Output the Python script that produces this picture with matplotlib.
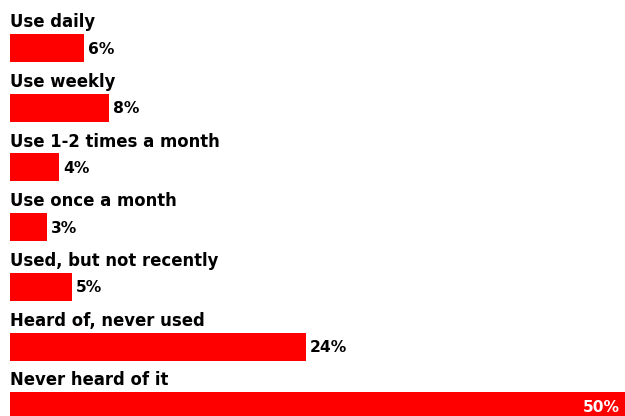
import matplotlib.pyplot as plt
from matplotlib.transforms import offset_copy

categories = [
    "Use daily",
    "Use weekly",
    "Use 1-2 times a month",
    "Use once a month",
    "Used, but not recently",
    "Heard of, never used",
    "Never heard of it",
]
values = [6, 8, 4, 3, 5, 24, 50]
value_labels = ["6%", "8%", "4%", "3%", "5%", "24%", "50%"]

fig = plt.figure(figsize=(6.25, 4.16), dpi=100)
ax = fig.add_axes([0, 0, 1, 1])

px_per_pct = 12.33
row_px = 59.7
first_center_px = 48
bar_h = 28 / row_px

ys = list(range(len(values)))
ax.barh(ys, values, height=bar_h, color="#ff0000", left=0)

ax.set_xlim(-10 / px_per_pct, (625 - 10) / px_per_pct)
ax.set_ylim((416 - first_center_px) / row_px, -first_center_px / row_px)
ax.axis("off")

for y, cat, v, lab in zip(ys, categories, values, value_labels):
    ax.text(0, y - bar_h / 2 - 0.115, cat, fontsize=11.9, fontweight="bold",
            color="black", ha="left", va="baseline", family="DejaVu Sans")
    if v >= 40:
        ax.text(ax.get_xlim()[1], y + 0.02, lab, fontsize=11.2, fontweight="bold",
                color="white", ha="right", va="center", family="DejaVu Sans",
                transform=offset_copy(ax.transData, fig=fig, x=-5, y=0, units="dots"))
    else:
        ax.text(v, y + 0.02, lab, fontsize=11.2, fontweight="bold",
                color="black", ha="left", va="center", family="DejaVu Sans",
                transform=offset_copy(ax.transData, fig=fig, x=4, y=0, units="dots"))

fig.savefig("out.png", dpi=100, facecolor="white")
